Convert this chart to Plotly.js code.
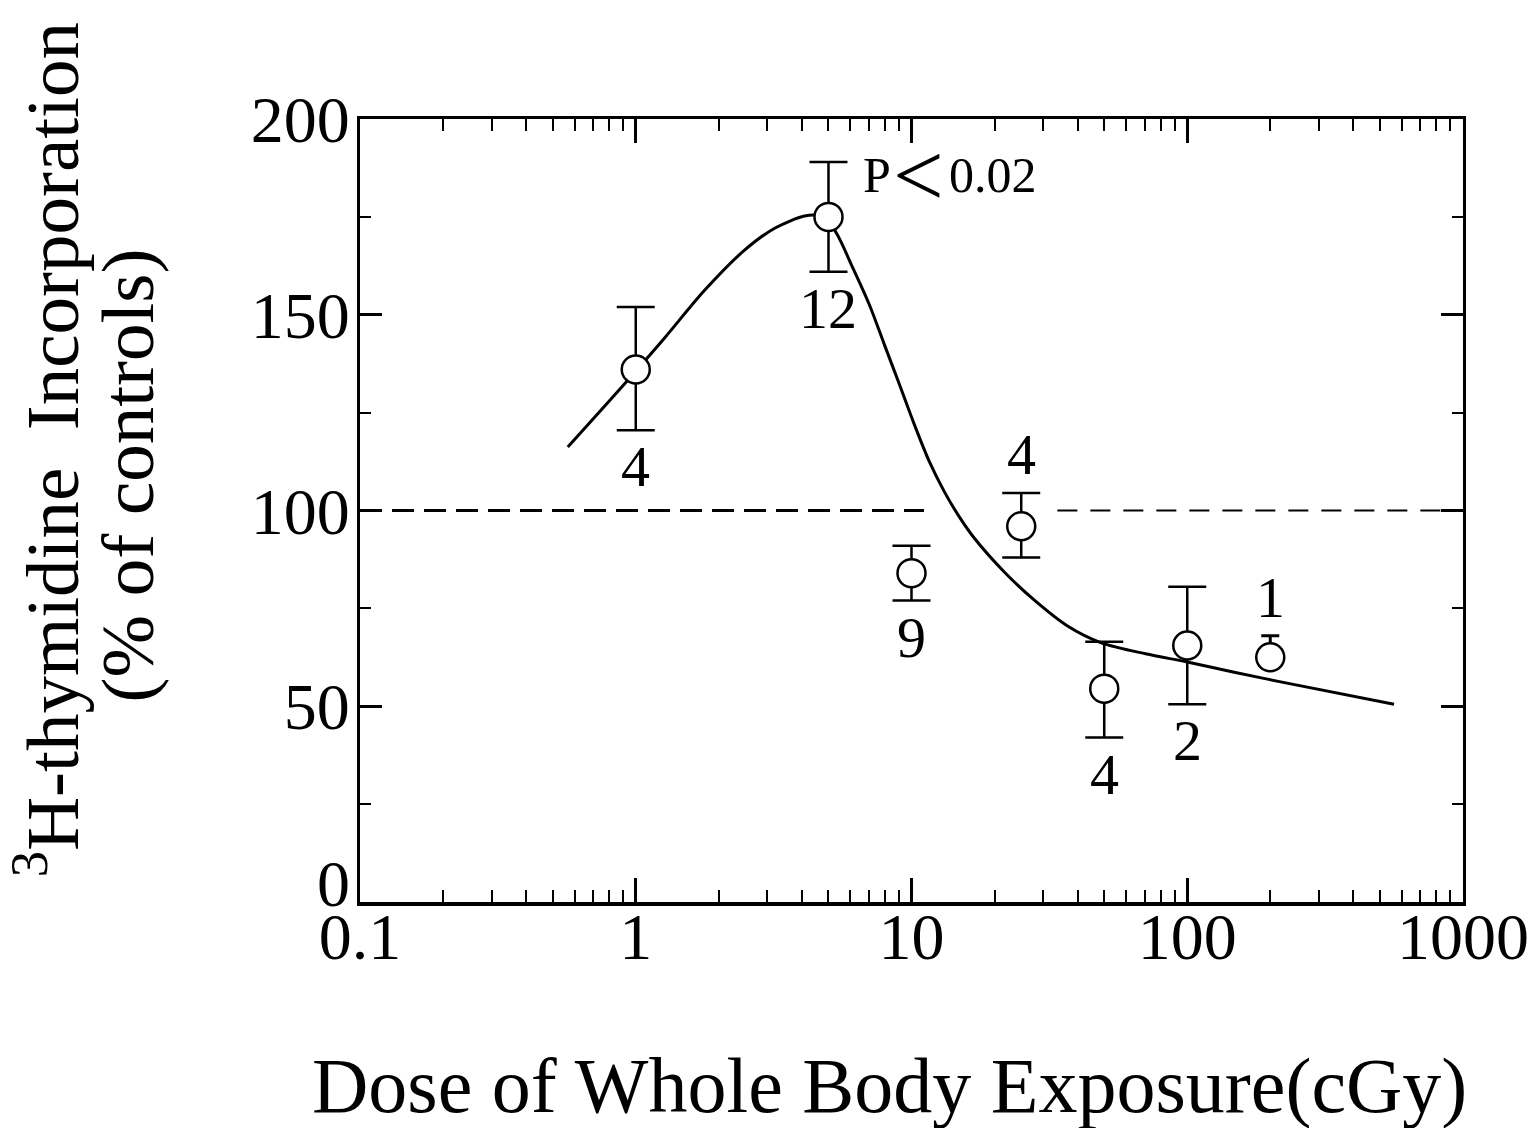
<!DOCTYPE html>
<html>
<head>
<meta charset="utf-8">
<script src="https://cdn.plot.ly/plotly-3.0.1.min.js"></script>
<style>
  html, body { margin: 0; padding: 0; background: #ffffff; }
  #chart { width: 1533px; height: 1128px; }
</style>
</head>
<body>
<div id="chart"></div>
<script>
// Dose (cGy) and 3H-thymidine incorporation (% of controls), mean ± error
const doses      = [1, 5, 10, 25, 50, 100, 200];
const uptake     = [136, 175, 84, 96, 54.5, 65.5, 62.5];
const errPlus    = [16, 14, 7, 8.5, 12, 15, 5.5];
const errMinus   = [15.5, 14, 7, 8, 12.5, 15, 0];
const nLabels    = ['4', '12', '9', '4', '4', '2', '1'];
const nLabelSide = ['below', 'below', 'below', 'above', 'below', 'below', 'above'];

// Fitted response curve
const fitDose   = [0.567, 0.772, 1.0, 1.27, 1.78, 2.48, 3.19, 4.09, 4.64, 5.26, 6.06, 7.04, 7.98, 9.05, 10.26, 11.62, 13.18, 14.93, 16.91, 21.7, 27.9, 36.8, 48.8, 70.6, 100, 148, 230, 562];
const fitUptake = [116.2, 126.7, 135.6, 144.0, 156.3, 166.5, 172.1, 175.2, 175.2, 171.6, 162.7, 152.5, 142.3, 132.1, 121.8, 112.4, 104.7, 98.3, 92.9, 84.3, 77.1, 70.5, 66.2, 63.4, 61.3, 58.7, 55.9, 50.5];

// Control level (100 %), interrupted around the crossing region
const ctrlLowDose  = [0.1, 11.1];
const ctrlHighDose = [33.8, 1000];
const ctrlLevel    = [100, 100];

// Axis ticks
const xTickVals = [0.1, 1, 10, 100, 1000];
const xTickText = ['0.1', '1', '10', '100', '1000'];
const yTickVals = [0, 50, 100, 150, 200];
const yTickText = ['0', '50', '100', '150', '200'];
const decadeSteps = [2, 3, 4, 5, 6, 7, 8, 9];

// Axis titles and significance note
const xTitle  = 'Dose of Whole Body Exposure(cGy)';
const yTitle1 = '<sup>3</sup>H-thymidine  Incorporation';
const yTitle2 = '(% of controls)';
const pLabel  = 'P';
const pSign   = '&lt;';
const pValue  = '0.02';

const xMinor = [];
[0.1, 1, 10, 100].forEach(d => decadeSteps.forEach(m => xMinor.push(d * m)));

const serif = 'Liberation Serif, Times New Roman, serif';
const ink = '#000000';

// Groups with several animals vs. the single-animal group (last point)
const nGroups = doses.length - 1;
const pick = (arr, lo, hi) => arr.slice(lo, hi);

const traces = [
  {
    x: ctrlLowDose, y: ctrlLevel, mode: 'lines', type: 'scatter',
    line: { color: ink, width: 3, dash: '22px,10px' },
    hoverinfo: 'skip', showlegend: false
  },
  {
    x: ctrlHighDose, y: ctrlLevel, mode: 'lines', type: 'scatter',
    line: { color: ink, width: 2, dash: '20px,13px' },
    hoverinfo: 'skip', showlegend: false
  },
  {
    x: fitDose, y: fitUptake, mode: 'lines', type: 'scatter',
    line: { color: ink, width: 3, shape: 'spline', smoothing: 0.8 },
    hoverinfo: 'skip', showlegend: false
  },
  {
    x: pick(doses, 0, nGroups), y: pick(uptake, 0, nGroups), mode: 'markers', type: 'scatter',
    marker: { symbol: 'circle', size: 28, color: '#ffffff', line: { color: ink, width: 2.5 } },
    error_y: {
      type: 'data', symmetric: false,
      array: pick(errPlus, 0, nGroups), arrayminus: pick(errMinus, 0, nGroups),
      color: ink, thickness: 2.5, width: 19, visible: true
    },
    showlegend: false
  },
  {
    x: pick(doses, nGroups), y: pick(uptake, nGroups), mode: 'markers', type: 'scatter',
    marker: { symbol: 'circle', size: 28, color: '#ffffff', line: { color: ink, width: 2.5 } },
    error_y: {
      type: 'data', symmetric: false,
      array: pick(errPlus, nGroups), arrayminus: pick(errMinus, nGroups),
      color: ink, thickness: 3, width: 9, visible: true
    },
    showlegend: false
  }
];

const annotations = doses.map((d, i) => {
  const above = nLabelSide[i] === 'above';
  return {
    x: Math.log10(d), xref: 'x',
    y: above ? uptake[i] + errPlus[i] : uptake[i] - errMinus[i], yref: 'y',
    text: nLabels[i], showarrow: false,
    xanchor: 'center', yanchor: above ? 'bottom' : 'top',
    yshift: above ? 4 : -2,
    font: { family: serif, size: 58, color: ink }
  };
});

// Significance note beside the peak group, set in three pieces
const noteX = Math.log10(doses[1]);
const noteY = uptake[1] + errPlus[1];
[
  { text: pLabel, xanchor: 'left',   xshift: 33,  size: 50 },
  { text: pSign,  xanchor: 'center', xshift: 90,  size: 90 },
  { text: pValue, xanchor: 'left',   xshift: 119, size: 50 }
].forEach(p => annotations.push({
  x: noteX, xref: 'x', y: noteY, yref: 'y',
  text: p.text, showarrow: false,
  xanchor: p.xanchor, yanchor: 'middle', xshift: p.xshift, yshift: -13,
  font: { family: serif, size: p.size, color: ink }
}));

// The zero label of the y axis sits just above the corner
annotations.push({
  x: 0, xref: 'paper', xanchor: 'right', xshift: -8,
  y: yTickVals[0], yref: 'y', yanchor: 'middle', yshift: 19,
  text: yTickText[0], showarrow: false,
  font: { family: serif, size: 66, color: ink }
});
// Axis titles placed in paper coordinates
annotations.push({
  xref: 'paper', yref: 'paper', x: 0.4805, y: -0.234,
  xanchor: 'center', yanchor: 'middle', showarrow: false,
  text: xTitle, font: { family: serif, size: 78, color: ink }
});
annotations.push({
  xref: 'paper', yref: 'paper', x: -0.2837, y: 0.577,
  xanchor: 'center', yanchor: 'middle', showarrow: false, textangle: -90,
  text: yTitle1, font: { family: serif, size: 75, color: ink }
});
annotations.push({
  xref: 'paper', yref: 'paper', x: -0.211, y: 0.545,
  xanchor: 'center', yanchor: 'middle', showarrow: false, textangle: -90,
  text: yTitle2, font: { family: serif, size: 75, color: ink }
});

const layout = {
  width: 1533, height: 1128,
  margin: { l: 360, r: 70, t: 119, b: 226 },
  paper_bgcolor: '#ffffff', plot_bgcolor: '#ffffff',
  font: { family: serif, color: ink },
  showlegend: false,
  xaxis: {
    type: 'log', range: [-1, 3],
    tickmode: 'array', tickvals: xTickVals, ticktext: xTickText,
    ticks: 'inside', ticklen: 24, tickwidth: 3, tickcolor: ink,
    minor: { tickmode: 'array', tickvals: xMinor, ticks: 'inside', ticklen: 12, tickwidth: 2, tickcolor: ink, showgrid: false },
    showline: true, linewidth: 3.5, linecolor: ink, mirror: 'ticks',
    showgrid: false, zeroline: false,
    ticklabelstandoff: -26,
    tickfont: { family: serif, size: 66, color: ink }
  },
  yaxis: {
    range: [0, 200],
    tickmode: 'array', tickvals: yTickVals,
    ticktext: yTickText.map((t, i) => (i === 0 ? '' : t)),
    ticks: 'inside', ticklen: 22, tickwidth: 3, tickcolor: ink,
    minor: { dtick: 25, ticks: 'inside', ticklen: 11, tickwidth: 2, tickcolor: ink, showgrid: false },
    showline: true, linewidth: 3, linecolor: ink, mirror: 'ticks',
    showgrid: false, zeroline: false,
    ticklabelstandoff: -6,
    tickfont: { family: serif, size: 66, color: ink }
  },
  annotations: annotations
};

Plotly.newPlot('chart', traces, layout, { displayModeBar: false, staticPlot: true });
</script>
</body>
</html>
